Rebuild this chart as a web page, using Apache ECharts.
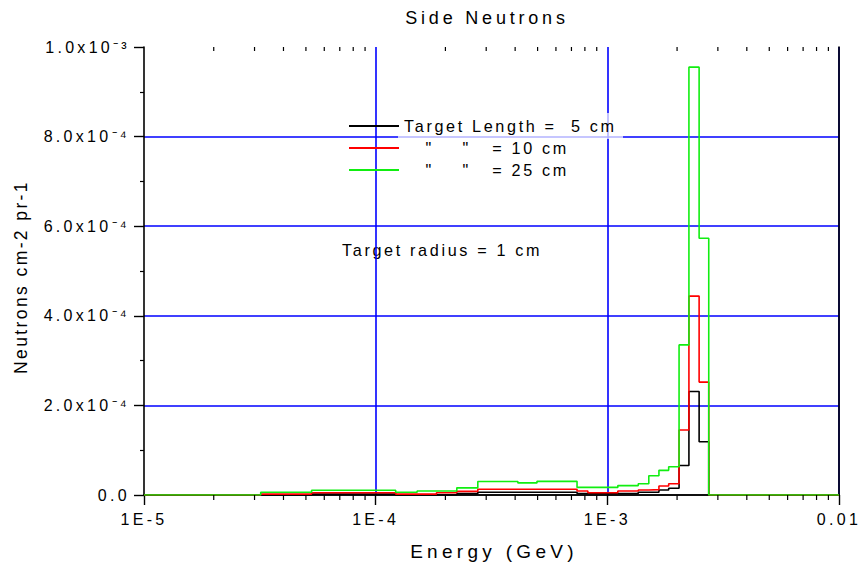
<!DOCTYPE html>
<html>
<head>
<meta charset="utf-8">
<title>Side Neutrons</title>
<style>
  html, body { margin: 0; padding: 0; background: #fff; }
  #chart { width: 862px; height: 569px; }
</style>
<script src="https://cdn.jsdelivr.net/npm/echarts@6/dist/echarts.min.js"></script>
</head>
<body>
<div id="chart"></div>
<script>
// Energy bin edges (GeV), shared by the three spectra
const binEdges = [1e-5, 3.19e-5, 5.29e-5, 1.22e-4, 1.51e-4, 1.83e-4, 2.24e-4, 2.76e-4,
  4.11e-4, 4.97e-4, 7.40e-4, 8.24e-4, 1.11e-3, 1.36e-3, 1.51e-3, 1.67e-3, 1.84e-3,
  2.04e-3, 2.25e-3, 2.49e-3, 2.74e-3, 1e-2];

// Side neutron flux per bin (neutrons cm-2 per proton), one value per bin
const flux5cm = [0, 0, 0.2e-5, 0, 0, 0, 0.3e-5, 0.6e-5, 0.6e-5, 0.6e-5, 0.35e-5, 0.35e-5,
  0.35e-5, 0.6e-5, 0.6e-5, 1.1e-5, 1.5e-5, 6.6e-5, 23.1e-5, 11.9e-5, 0];
const flux10cm = [0, 0.2e-5, 0.5e-5, 0.2e-5, 0.2e-5, 0.5e-5, 0.8e-5, 1.3e-5, 1.3e-5, 1.3e-5,
  0.9e-5, 0.5e-5, 0.9e-5, 1.1e-5, 1.2e-5, 2.0e-5, 2.5e-5, 14.5e-5, 44.4e-5, 25.2e-5, 0];
const flux25cm = [0, 0.6e-5, 1.05e-5, 0.6e-5, 0.9e-5, 0.9e-5, 1.6e-5, 3.0e-5, 2.7e-5, 3.05e-5,
  1.7e-5, 1.7e-5, 2.1e-5, 2.5e-5, 4.3e-5, 5.5e-5, 6.3e-5, 33.5e-5, 95.5e-5, 57.3e-5, 0];

const seriesNames = ['Target Length =\u00a0\u00a05 cm',
  '\u00a0\u00a0\u00a0"\u00a0\u00a0\u00a0\u00a0"\u00a0\u00a0\u00a0= 10 cm',
  '\u00a0\u00a0\u00a0"\u00a0\u00a0\u00a0\u00a0"\u00a0\u00a0\u00a0= 25 cm'];
const seriesColors = ['#000000', '#ff0000', '#11ee11'];

const xTickLabels = ['1E-5', '1E-4', '1E-3', '0.01'];
const yTickLabels = ['0.0', '2.0x10\u207b\u2074', '4.0x10\u207b\u2074', '6.0x10\u207b\u2074',
  '8.0x10\u207b\u2074', '1.0x10\u207b\u00b3'];
const minorTickValues = [2e-5, 3e-5, 4e-5, 5e-5, 6e-5, 7e-5, 8e-5, 9e-5,
  2e-4, 3e-4, 4e-4, 5e-4, 6e-4, 7e-4, 8e-4, 9e-4,
  2e-3, 3e-3, 4e-3, 5e-3, 6e-3, 7e-3, 8e-3, 9e-3];

const FONT = 'Liberation Sans, Arial, sans-serif';

// histogram steps: each edge carries the value of the bin that starts there
function stepPoints(values) {
  return binEdges.map((e, i) => [e, values[Math.min(i, values.length - 1)]]);
}

const chartDom = document.getElementById('chart');
const chart = echarts.init(chartDom, null, { renderer: 'svg' });

const fluxes = [flux5cm, flux10cm, flux25cm];
const lineSeries = fluxes.map((vals, k) => ({
  name: seriesNames[k],
  type: 'line',
  step: 'end',
  symbol: 'none',
  data: stepPoints(vals),
  lineStyle: { color: seriesColors[k], width: 1.6 },
  itemStyle: { color: seriesColors[k] },
  z: 3 + k
}));

// minor ticks on the bottom (outward) and top (inward) log axes
const minorTickSeries = {
  type: 'custom',
  silent: true,
  clip: false,
  data: minorTickValues.map(v => [v, 0]),
  encode: { x: 0, y: 1 },
  renderItem: function (params, api) {
    const x = api.coord([api.value(0), 0])[0];
    const cs = params.coordSys;
    const bottom = cs.y + cs.height;
    return {
      type: 'group',
      children: [
        { type: 'line', shape: { x1: x, y1: bottom, x2: x, y2: bottom + 5 },
          style: { stroke: '#000', lineWidth: 1.2 } },
        { type: 'line', shape: { x1: x, y1: cs.y, x2: x, y2: cs.y + 4 },
          style: { stroke: '#000', lineWidth: 1.2 } }
      ]
    };
  },
  z: 6
};

const option = {
  animation: false,
  backgroundColor: '#ffffff',
  grid: { left: 144, right: 23, top: 47, bottom: 74, containLabel: false },
  legend: {
    orient: 'vertical',
    left: 348,
    top: 118,
    padding: 0,
    itemWidth: 50,
    itemHeight: 14,
    itemGap: 6,
    selectedMode: false,
    data: seriesNames,
    itemStyle: { opacity: 0, borderWidth: 0 },
    textStyle: { fontFamily: FONT, fontSize: 16.2, color: '#000' }
  },
  graphic: [
    { type: 'rect', z: 1, silent: true,
      shape: { x: 398, y: 113, width: 225, height: 26 },
      style: { fill: 'rgba(255,255,255,0.7)' } },
    { type: 'text', silent: true, x: 487, y: 18,
      style: { text: 'Side Neutrons', fontFamily: FONT, fontSize: 18, fill: '#000',
        textAlign: 'center', textVerticalAlign: 'middle' } },
    { type: 'text', silent: true, x: 342, y: 250,
      style: { text: 'Target radius = 1 cm', fontFamily: FONT, fontSize: 16.2, fill: '#000',
        textAlign: 'left', textVerticalAlign: 'middle' } },
    { type: 'text', silent: true, x: 21, y: 277, rotation: Math.PI / 2,
      style: { text: 'Neutrons cm-2 pr-1', fontFamily: FONT, fontSize: 17.5, fill: '#000',
        textAlign: 'center', textVerticalAlign: 'middle' } },
    { type: 'text', silent: true, x: 494, y: 551,
      style: { text: 'Energy (GeV)', fontFamily: FONT, fontSize: 19, fill: '#000',
        textAlign: 'center', textVerticalAlign: 'middle' } }
  ],
  xAxis: [
    {
      type: 'log', logBase: 10, min: 1e-5, max: 1e-2, splitNumber: 3, position: 'bottom',
      axisLine: { show: true, lineStyle: { color: '#000', width: 1.6 } },
      axisTick: { show: true, inside: false, length: 10, lineStyle: { color: '#000', width: 1.4 } },
      axisLabel: {
        margin: 16, fontFamily: FONT, fontSize: 16, color: '#000',
        formatter: v => xTickLabels[Math.round(Math.log10(v) + 5)]
      },
      splitLine: { show: true, showMinLine: false, showMaxLine: false,
        lineStyle: { color: '#0000ff', width: 1.6 } }
    },
    {
      type: 'log', logBase: 10, min: 1e-5, max: 1e-2, splitNumber: 3, position: 'top',
      axisLine: { show: true, lineStyle: { color: '#000', width: 1.6 } },
      axisTick: { show: false },
      axisLabel: { show: false },
      splitLine: { show: false }
    }
  ],
  yAxis: [
    {
      type: 'value', min: 0, max: 1e-3, interval: 2e-4, position: 'left',
      axisLine: { show: true, lineStyle: { color: '#000', width: 1.6 } },
      axisTick: { show: true, inside: false, length: 10, lineStyle: { color: '#000', width: 1.4 } },
      minorTick: { show: true, splitNumber: 2, length: 4, lineStyle: { color: '#000', width: 1.2 } },
      axisLabel: {
        margin: 14, fontFamily: FONT, fontSize: 16, color: '#000',
        formatter: (v, i) => yTickLabels[Math.round(v / 2e-4)]
      },
      splitLine: { show: true, showMinLine: false, showMaxLine: false,
        lineStyle: { color: '#0000ff', width: 1.6 } }
    },
    {
      type: 'value', min: 0, max: 1e-3, interval: 2e-4, position: 'right',
      axisLine: { show: true, lineStyle: { color: '#000', width: 1.6 } },
      axisTick: { show: false },
      axisLabel: { show: false },
      splitLine: { show: false }
    }
  ],
  series: [minorTickSeries].concat(lineSeries)
};

chart.setOption(option);

// widen the glyph spacing of the drawn texts, per font size
const letterSpacingBySize = { '16.2': 2.65, '16.0': 3.3, '17.5': 2.4, '18.0': 3.8, '19.0': 4.3 };
function spaceText() {
  chartDom.querySelectorAll('text').forEach(t => {
    const fs = parseFloat(getComputedStyle(t).fontSize).toFixed(1);
    if (letterSpacingBySize[fs] != null) {
      t.style.letterSpacing = letterSpacingBySize[fs] + 'px';
    }
  });
}
chart.on('finished', spaceText);
setTimeout(spaceText, 50);
setTimeout(spaceText, 300);
</script>
</body>
</html>
